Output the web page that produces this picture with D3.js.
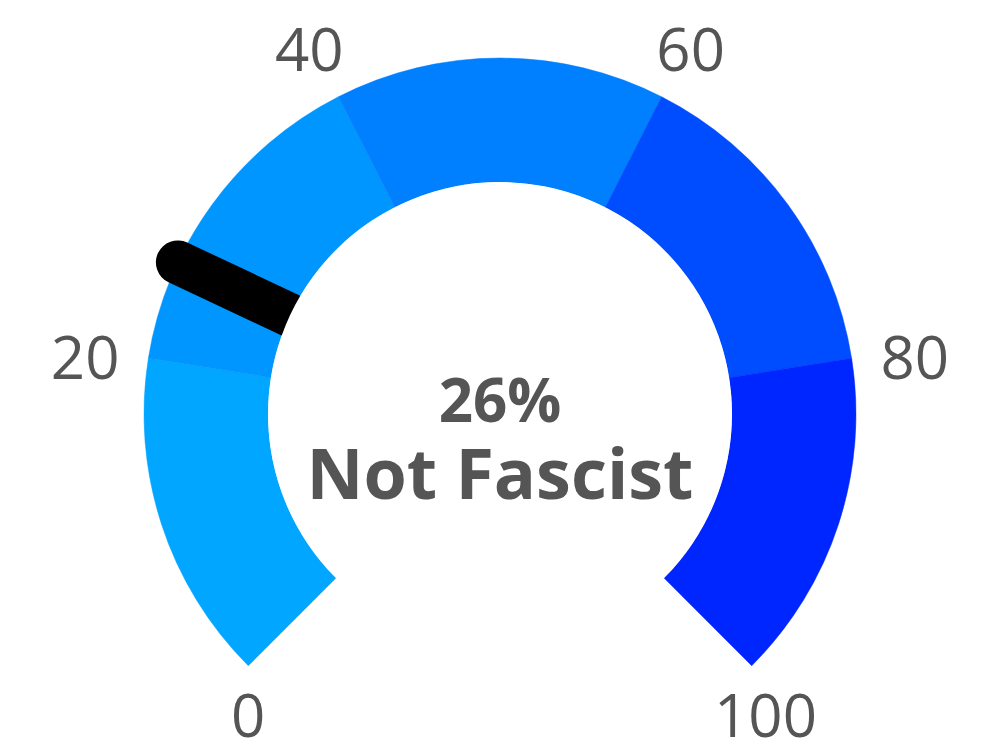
<!DOCTYPE html>
<html>
<head>
<meta charset="utf-8">
<script src="https://cdn.jsdelivr.net/npm/d3@7"></script>
<style>
  html, body { margin: 0; padding: 0; background: #fff; }
  svg { display: block; font-family: "Open Sans", "Noto Sans", sans-serif; }
</style>
</head>
<body>
<div id="gauge"></div>
<script>
// gauge bands (from/to) and their colours
const bandStarts = [0, 20, 40, 60, 80];
const bandEnds = [20, 40, 60, 80, 100];
const bandColors = ['#00a6ff', '#0096ff', '#0080ff', '#004cff', '#0026ff'];

// tick labels round the dial
const tickValues = [0, 20, 40, 60, 80, 100];

// reading
const gaugeValue = 26;
const valueText = '26%';
const categoryText = 'Not Fascist';

const width = 1000, height = 753;
const cx = 500, cy = 414;
const outerR = 356, innerR = 232;

const svg = d3.select('#gauge')
    .append('svg')
    .attr('width', width)
    .attr('height', height);

const g = svg.append('g')
    .attr('transform', `translate(${cx},${cy})`);

// value -> angle (270 degree sweep)
const angle = d3.scaleLinear()
    .domain([0, 100])
    .range([-135 * Math.PI / 180, 135 * Math.PI / 180]);

const arc = d3.arc()
    .innerRadius(innerR)
    .outerRadius(outerR);

const bands = bandStarts.map((s, i) => ({ start: s, end: bandEnds[i], color: bandColors[i] }));

g.selectAll('.band')
    .data(bands)
    .enter().append('path')
    .attr('class', 'band')
    .attr('d', d => arc({ startAngle: angle(d.start), endAngle: angle(d.end) }))
    .attr('fill', d => d.color)
    .attr('stroke', d => d.color)
    .attr('stroke-width', 0.5);

// needle: thick rounded line from the centre, inner part hidden by a white disc
const a = angle(gaugeValue);
g.append('line')
    .attr('x1', 0)
    .attr('y1', 0)
    .attr('x2', outerR * Math.sin(a))
    .attr('y2', -outerR * Math.cos(a))
    .attr('stroke', '#000')
    .attr('stroke-width', 44)
    .attr('stroke-linecap', 'round');

g.append('circle')
    .attr('r', innerR)
    .attr('fill', '#fff');

// tick labels
const labelR = 420;
function labelPos(v) {
    const t = angle(v);
    if (Math.cos(t) < 0) {
        // labels under the open ends sit just below the arc tip
        return [outerR * Math.sin(t), -outerR * Math.cos(t) + 48];
    }
    return [labelR * Math.sin(t), 8 - labelR * Math.cos(t)];
}

const tickLabels = g.selectAll('.tick-label')
    .data(tickValues)
    .enter().append('text')
    .attr('class', 'tick-label')
    .attr('x', d => labelPos(d)[0])
    .attr('y', d => labelPos(d)[1])
    .attr('text-anchor', 'middle')
    .attr('dominant-baseline', 'central')
    .style('font-size', '60px')
    .style('fill', '#555')
    .text(d => d);

// wider end labels get pushed a little outward
tickLabels.each(function(d) {
    const t = angle(d);
    if (Math.cos(t) < 0) {
        const len = this.getComputedTextLength();
        const shift = Math.sign(Math.sin(t)) * Math.max(0, len / 2 - 17) * 0.4;
        d3.select(this).attr('x', labelPos(d)[0] + shift);
    }
});

// centre text
g.append('text')
    .attr('x', 0)
    .attr('y', 422 - cy)
    .attr('text-anchor', 'middle')
    .style('font-size', '60px')
    .style('font-weight', 'bold')
    .style('fill', '#555')
    .text(valueText);

g.append('text')
    .attr('x', 0)
    .attr('y', 499 - cy)
    .attr('text-anchor', 'middle')
    .style('font-size', '70px')
    .style('font-weight', 'bold')
    .style('fill', '#555')
    .text(categoryText);
</script>
</body>
</html>
